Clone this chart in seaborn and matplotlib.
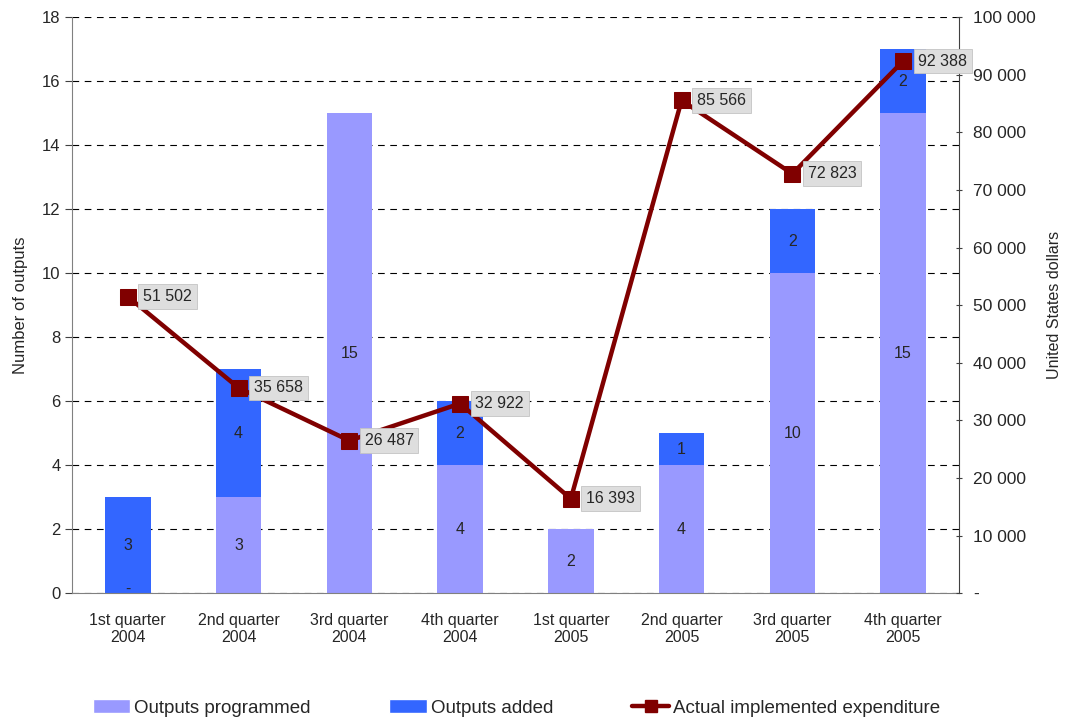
import matplotlib
matplotlib.use('Agg')
import matplotlib.pyplot as plt
import matplotlib.ticker as mticker
from matplotlib.patches import Patch
from matplotlib.lines import Line2D
import numpy as np
import pandas as pd
import seaborn as sns

# Data
quarters = ['1st quarter\n2004', '2nd quarter\n2004', '3rd quarter\n2004', '4th quarter\n2004',
            '1st quarter\n2005', '2nd quarter\n2005', '3rd quarter\n2005', '4th quarter\n2005']
programmed = [0, 3, 15, 4, 2, 4, 10, 15]
added = [3, 4, 0, 2, 0, 1, 2, 2]
expenditure = [51502, 35658, 26487, 32922, 16393, 85566, 72823, 92388]

c_prog = '#9999FF'
c_add = '#3366FF'
c_line = '#800000'

sns.set_style('white')
plt.rcParams['font.family'] = ['Liberation Sans', 'DejaVu Sans']

df = pd.DataFrame({'quarter': quarters, 'programmed': programmed, 'added': added,
                   'expenditure': expenditure})
df['total'] = df['programmed'] + df['added']

fig, ax = plt.subplots(figsize=(10.65, 7.19), dpi=100)
fig.subplots_adjust(left=0.068, right=0.9, top=0.976, bottom=0.175)

# stacked bars: total drawn first, programmed part on top of it
sns.barplot(data=df, x='quarter', y='total', color=c_add, width=0.41, saturation=1,
            linewidth=0, ax=ax, zorder=2)
sns.barplot(data=df, x='quarter', y='programmed', color=c_prog, width=0.41, saturation=1,
            linewidth=0, ax=ax, zorder=2)

ax.set_ylim(0, 18)
ax.set_xlim(-0.5, 7.5)
ax.set_yticks(range(0, 19, 2))
ax.set_xlabel('')
ax.set_ylabel('Number of outputs', fontsize=12, labelpad=10)
ax.yaxis.grid(True, linestyle=(0, (6, 5)), color='black', linewidth=0.8, zorder=0)
ax.set_axisbelow(True)
ax.set_xticks(np.arange(8))
ax.set_xticklabels(quarters, fontsize=11.5)
ax.set_xticks(np.arange(-0.5, 8, 1), minor=True)
ax.tick_params(axis='x', which='major', length=0, pad=14)
ax.tick_params(axis='x', which='minor', length=5, direction='out', color='#404040')
ax.tick_params(axis='y', length=5, direction='out', color='#404040', labelsize=12, left=True)
for s in ['top', 'right']:
    ax.spines[s].set_visible(False)
for s in ['left', 'bottom']:
    ax.spines[s].set_color('#808080')

# bar labels
for i, (p, a) in enumerate(zip(programmed, added)):
    if p > 0:
        ax.text(i, p / 2, str(p), ha='center', va='center', fontsize=11.5)
    else:
        ax.text(i, 0.12, '-', ha='center', va='center', fontsize=11.5)
    if a > 0:
        ax.text(i, p + a / 2, str(a), ha='center', va='center', fontsize=11.5)

ax2 = ax.twinx()
sns.lineplot(x=np.arange(8), y=expenditure, ax=ax2, color=c_line, linewidth=3.2,
             marker='s', markersize=12, markeredgecolor=c_line, zorder=5)
ax2.set_ylim(0, 100000)
ax2.set_yticks(range(0, 100001, 10000))
ax2.yaxis.set_major_formatter(mticker.FuncFormatter(
    lambda v, _: '-' if v == 0 else f'{int(v):,}'.replace(',', ' ')))
ax2.set_ylabel('United States dollars', fontsize=11.5, labelpad=8)
ax2.tick_params(axis='y', length=5, direction='inout', color='#404040', labelsize=12.5,
                right=True, pad=8)
for s in ['top', 'left', 'bottom']:
    ax2.spines[s].set_visible(False)
ax2.spines['right'].set_color('#404040')
ax2.grid(False)

for i, v in enumerate(expenditure):
    ax2.annotate(f'{v:,}'.replace(',', ' '), (i, v), xytext=(11, 0), textcoords='offset points',
                 ha='left', va='center', fontsize=11.5, zorder=6,
                 bbox=dict(boxstyle='square,pad=0.3', facecolor='#dedede', edgecolor='#c4c4c4',
                           linewidth=0.6))

handles = [Patch(facecolor=c_prog, label='Outputs programmed'),
           Patch(facecolor=c_add, label='Outputs added'),
           Line2D([0], [0], color=c_line, linewidth=3.2, marker='s', markersize=9,
                  label='Actual implemented expenditure')]
fig.legend(handles=handles, loc='lower center', ncol=3, frameon=False, fontsize=13.5,
           bbox_to_anchor=(0.485, -0.02), columnspacing=4.2, handlelength=2.0, handletextpad=0.2)

fig.savefig('out.png', dpi=100)
